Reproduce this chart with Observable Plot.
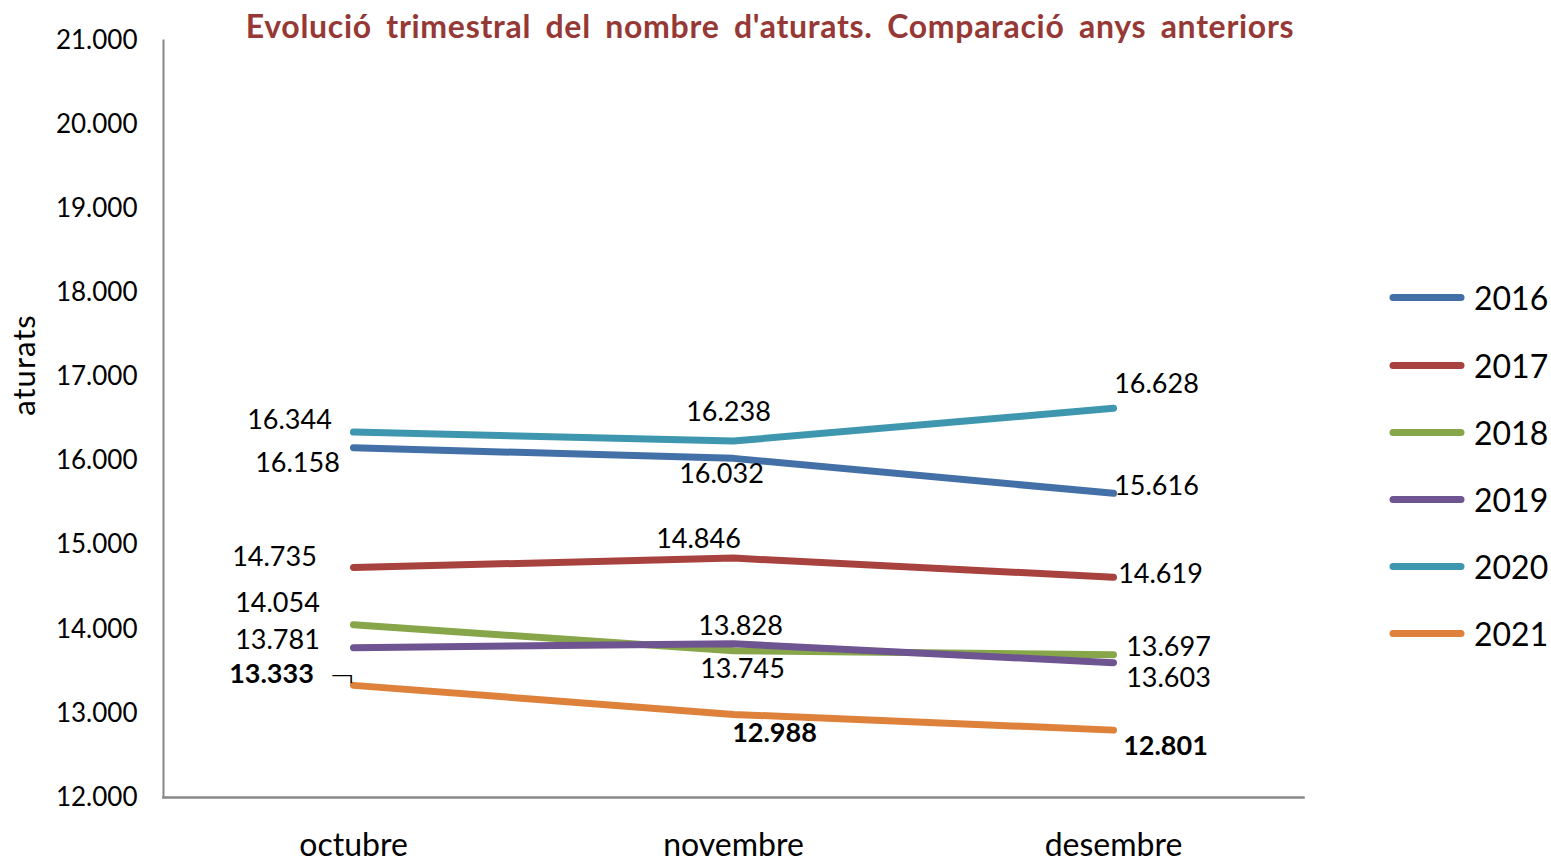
<!DOCTYPE html>
<html>
<head>
<meta charset="utf-8">
<script src="https://cdn.jsdelivr.net/npm/d3@7"></script>
<script src="https://cdn.jsdelivr.net/npm/@observablehq/plot@0.6"></script>
<style>
  html, body { margin: 0; padding: 0; background: #fff; }
  #wrap { position: relative; width: 1551px; height: 862px; font-family: Lato, "Open Sans", sans-serif; }
  #title { position: absolute; left: 0; width: 1540px; top: 6px; text-align: center; font-weight: bold; font-size: 32px; color: #963936; word-spacing: 6px; letter-spacing: 0.7px; }
  #ylabel { position: absolute; left: 23px; top: 365px; transform: translate(-50%, -50%) rotate(-90deg); font-size: 31px; letter-spacing: 1px; color: #000; white-space: nowrap; }
  #legend { position: absolute; left: 1388px; top: 0; }
  .lg { position: absolute; left: 0; display: flex; align-items: center; white-space: nowrap; font-size: 32px; letter-spacing: 0px; color: #000; transform: translateY(-50%); }
  .lg svg { margin-right: 8px; }
  #chart { position: absolute; left: 0; top: 0; }
</style>
</head>
<body>
<div id="wrap">
  <div id="chart"></div>
  <div id="title"></div>
  <div id="ylabel"></div>
  <div id="legend"></div>
</div>
<script>
// ---- data ----
const titleText = "Evolució  trimestral del nombre d'aturats. Comparació  anys anteriors";
const yLabel = "aturats";
const months = ["octubre", "novembre", "desembre"];
const years = ["2016", "2017", "2018", "2019", "2020", "2021"];
const v2016 = [16158, 16032, 15616];
const v2017 = [14735, 14846, 14619];
const v2018 = [14054, 13745, 13697];
const v2019 = [13781, 13828, 13603];
const v2020 = [16344, 16238, 16628];
const v2021 = [13333, 12988, 12801];
const yTicks = [12000, 13000, 14000, 15000, 16000, 17000, 18000, 19000, 20000, 21000];

// ---- styles ----
const colors = ["#4470A8", "#A8423F", "#87A64A", "#6E5491", "#3F97AF", "#DE813A"];
// label offsets (dx, dy) per year, per month
const labelOffsets = {
  "2016": [[-56, 16], [-12, 16], [43, -7]],
  "2017": [[-79, -10], [-35, -19], [47, -3]],
  "2018": [[-76, -21], [9, 19], [55, -7]],
  "2019": [[-76, -7], [7, -17], [55, 16]],
  "2020": [[-64, -12], [-5, -29], [43, -24]],
  "2021": [[-82, -11], [41, 19], [52, 16]]
};

const series = [v2016, v2017, v2018, v2019, v2020, v2021];
const rows = [];
years.forEach((yr, i) => months.forEach((m, j) => rows.push({year: yr, month: m, value: series[i][j], mi: j})));

const loc = d3.formatLocale({decimal: ",", thousands: ".", grouping: [3], currency: ["", "€"]});
const fmt = loc.format(",d");

const labelMarks = rows.map(r => Plot.text([r], {
  x: "month", y: "value", text: d => fmt(d.value),
  dx: labelOffsets[r.year][r.mi][0], dy: labelOffsets[r.year][r.mi][1],
  fontSize: 27, fontWeight: r.year === "2021" ? "bold" : "normal",
  fill: "#000", textAnchor: "middle", lineAnchor: "middle",
  style: r.year === "2021" ? "letter-spacing:1px" : "letter-spacing:1.7px"
}));

const chart = Plot.plot({
  width: 1551, height: 862,
  marginLeft: 163, marginRight: 248, marginTop: 40, marginBottom: 65,
  style: {fontFamily: "Lato, 'Open Sans', sans-serif", background: "transparent", color: "#000"},
  x: {type: "point", domain: months, padding: 0.5, align: 0.5},
  y: {domain: [12000, 21000]},
  color: {domain: years, range: colors},
  marks: [
    Plot.axisY({ticks: yTicks, tickFormat: fmt, tickSize: 0, tickPadding: 26, fontSize: 26, label: null}),
    Plot.axisX({tickSize: 0, tickPadding: 36, fontSize: 32, label: null, style: "letter-spacing:1.7px"}),
    Plot.frame({anchor: "left", stroke: "#888", strokeWidth: 2}),
    Plot.frame({anchor: "bottom", stroke: "#888", strokeWidth: 2.5}),
    Plot.line(rows, {x: "month", y: "value", z: "year", stroke: "year", strokeWidth: 7, strokeLinecap: "round", strokeLinejoin: "round"}),
    ...labelMarks,
    Plot.text(rows.filter(r => r.year === "2021" && r.mi === 0), {x: "month", y: "value", text: () => "¬", dx: -11, dy: -8, fontSize: 32, fill: "#000", fontFamily: "DejaVu Sans", fontWeight: "300"})
  ]
});
document.getElementById("chart").appendChild(chart);

document.getElementById("title").textContent = titleText;
document.getElementById("ylabel").textContent = yLabel;

const legendTops = [297, 365, 432, 499, 566, 633];
const lg = document.getElementById("legend");
years.forEach((yr, i) => {
  const d = document.createElement("div");
  d.className = "lg";
  d.style.top = legendTops[i] + "px";
  d.innerHTML = `<svg width="78" height="10"><line x1="5" y1="5" x2="73" y2="5" stroke="${colors[i]}" stroke-width="7" stroke-linecap="round"/></svg><span>${yr}</span>`;
  lg.appendChild(d);
});
</script>
</body>
</html>
